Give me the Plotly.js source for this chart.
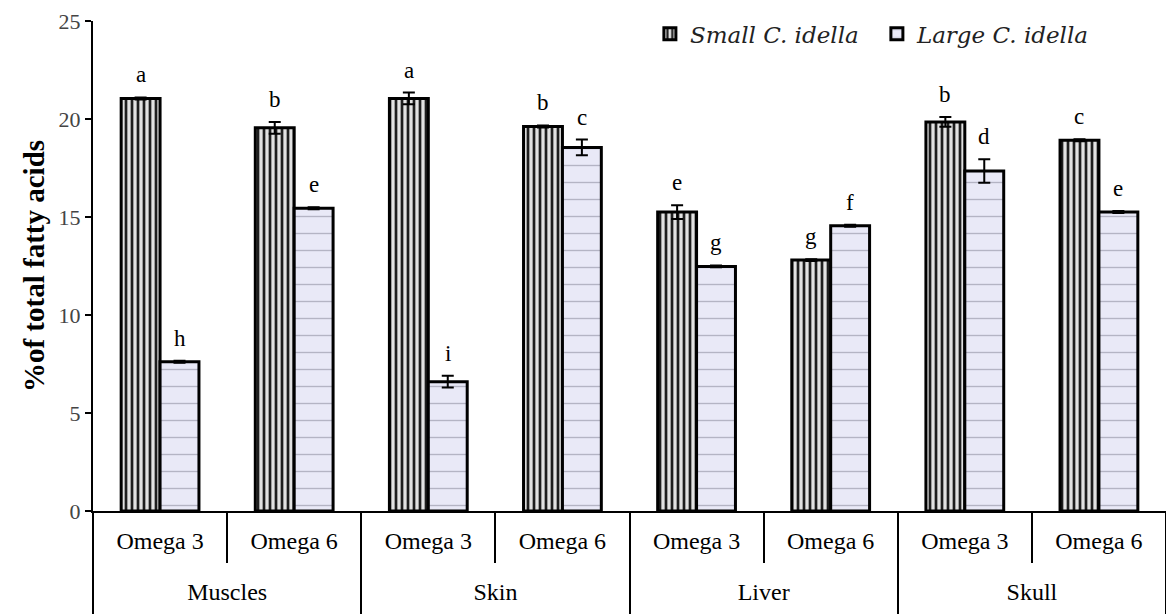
<!DOCTYPE html>
<html><head><meta charset="utf-8">
<script src="https://cdn.plot.ly/plotly-3.0.1.min.js"></script>
<style>html,body{margin:0;padding:0;background:#fff;}#chart{width:1166px;height:614px;}</style>
</head><body><div id="chart"></div>
<script>
const tissues = ["Muscles","Muscles","Skin","Skin","Liver","Liver","Skull","Skull"];
const acids = ["Omega 3","Omega 6","Omega 3","Omega 6","Omega 3","Omega 6","Omega 3","Omega 6"];
const smallValues = [21.05, 19.55, 21.05, 19.62, 15.25, 12.8, 19.85, 18.92];
const smallErrors = [0.05, 0.3, 0.3, 0.05, 0.35, 0.05, 0.25, 0.05];
const largeValues = [7.62, 15.45, 6.6, 18.55, 12.48, 14.55, 17.35, 15.25];
const largeErrors = [0.05, 0.05, 0.3, 0.4, 0.05, 0.05, 0.6, 0.05];
const smallLetters = ["a","b","a","b","e","g","b","c"];
const largeLetters = ["h","e","i","c","g","f","d","e"];
const seriesNames = ["Small C. idella", "Large C. idella"];

const serif = "Liberation Serif, Times New Roman, serif";
const bargap = 0.42;
const half = (1 - bargap) / 4;

// positions derived from the category arrays
const pos = acids.map((_, i) => i);
const tissueNames = tissues.filter((t, i) => tissues.indexOf(t) === i);
const tissueCenters = tissueNames.map(t => {
  const idx = pos.filter(i => tissues[i] === t);
  return (idx[0] + idx[idx.length - 1]) / 2;
});
const innerBounds = [], outerBounds = [-0.5];
for (let i = 1; i < pos.length; i++) {
  if (tissues[i] === tissues[i - 1]) innerBounds.push(i - 0.5); else outerBounds.push(i - 0.5);
}
outerBounds.push(pos.length - 0.5);

const traces = [
  {
    type: "bar", name: "<i>" + seriesNames[0] + "</i>",
    x: pos, y: smallValues,
    error_y: {type: "data", array: smallErrors, visible: true, color: "#000", thickness: 2, width: 6},
    marker: {color: "#e0e0e0", line: {color: "#000", width: 3},
      pattern: {shape: "|", fgcolor: "#1e1e1e", bgcolor: "#e2e2e2", size: 6, solidity: 0.45}}
  },
  {
    type: "bar", name: "<i>" + seriesNames[1] + "</i>",
    x: pos, y: largeValues,
    error_y: {type: "data", array: largeErrors, visible: true, color: "#000", thickness: 2, width: 6},
    marker: {color: "#e9e9f7", line: {color: "#000", width: 3},
      pattern: {shape: "-", fgcolor: "#b4b4c4", bgcolor: "#e9e9f7", size: 17, solidity: 0.08}}
  },
  {
    type: "scatter", mode: "markers", x: tissueCenters, y: tissueCenters.map(() => 0),
    xaxis: "x2", yaxis: "y", showlegend: false, hoverinfo: "skip",
    marker: {opacity: 0, size: 1}
  }
];

const annotations = [];
smallValues.forEach((v, i) => {
  annotations.push({x: i - half, y: v + smallErrors[i], xref: "x", yref: "y", text: smallLetters[i],
    showarrow: false, yanchor: "bottom", yshift: 8, font: {family: serif, size: 23, color: "#000"}});
});
largeValues.forEach((v, i) => {
  annotations.push({x: i + half, y: v + largeErrors[i], xref: "x", yref: "y", text: largeLetters[i],
    showarrow: false, yanchor: "bottom", yshift: 8, font: {family: serif, size: 23, color: "#000"}});
});

const xRange = [-0.5, pos.length - 0.5];

const layout = {
  width: 1166, height: 614,
  margin: {l: 93, r: 0, t: 21, b: 103},
  paper_bgcolor: "#fff", plot_bgcolor: "#fff",
  barmode: "group", bargap: bargap, bargroupgap: 0,
  font: {family: serif, size: 22, color: "#000"},
  showlegend: true,
  legend: {orientation: "h", x: 0.519, y: 1.018, xanchor: "left", yanchor: "top",
    bgcolor: "rgba(0,0,0,0)", font: {family: "DejaVu Serif, serif", size: 23, color: "#222"},
    entrywidth: 182, entrywidthmode: "pixels", traceorder: "normal"},
  xaxis: {type: "linear", range: xRange, tickmode: "array", tickvals: pos, ticktext: acids,
    showline: true, linecolor: "#000", linewidth: 2, ticks: "", ticklabelstandoff: 7,
    minor: {tickmode: "array", tickvals: innerBounds, ticks: "outside", ticklen: 50, tickwidth: 2, tickcolor: "#000", showgrid: false},
    tickfont: {family: serif, size: 24, color: "#000"}, showgrid: false, zeroline: false, fixedrange: true},
  xaxis2: {type: "linear", range: xRange, overlaying: "x", anchor: "y", side: "bottom",
    tickmode: "array", tickvals: tissueCenters, ticktext: tissueNames,
    showline: false, ticks: "", ticklabelstandoff: 64,
    minor: {tickmode: "array", tickvals: outerBounds, ticks: "outside", ticklen: 103, tickwidth: 2, tickcolor: "#000", showgrid: false},
    tickfont: {family: serif, size: 24, color: "#000"}, showgrid: false, zeroline: false},
  yaxis: {range: [0, 25], dtick: 5, showline: true, linecolor: "#000", linewidth: 2,
    ticks: "outside", ticklen: 6, tickwidth: 2, tickcolor: "#000", showgrid: false, zeroline: false,
    tickfont: {family: serif, size: 22, color: "#444"},
    title: {text: "<b>%of total fatty acids</b>", font: {family: serif, size: 29, color: "#000"}, standoff: 5}},
  annotations: annotations
};

Plotly.newPlot("chart", traces, layout, {displayModeBar: false, staticPlot: true});
</script>
</body></html>
